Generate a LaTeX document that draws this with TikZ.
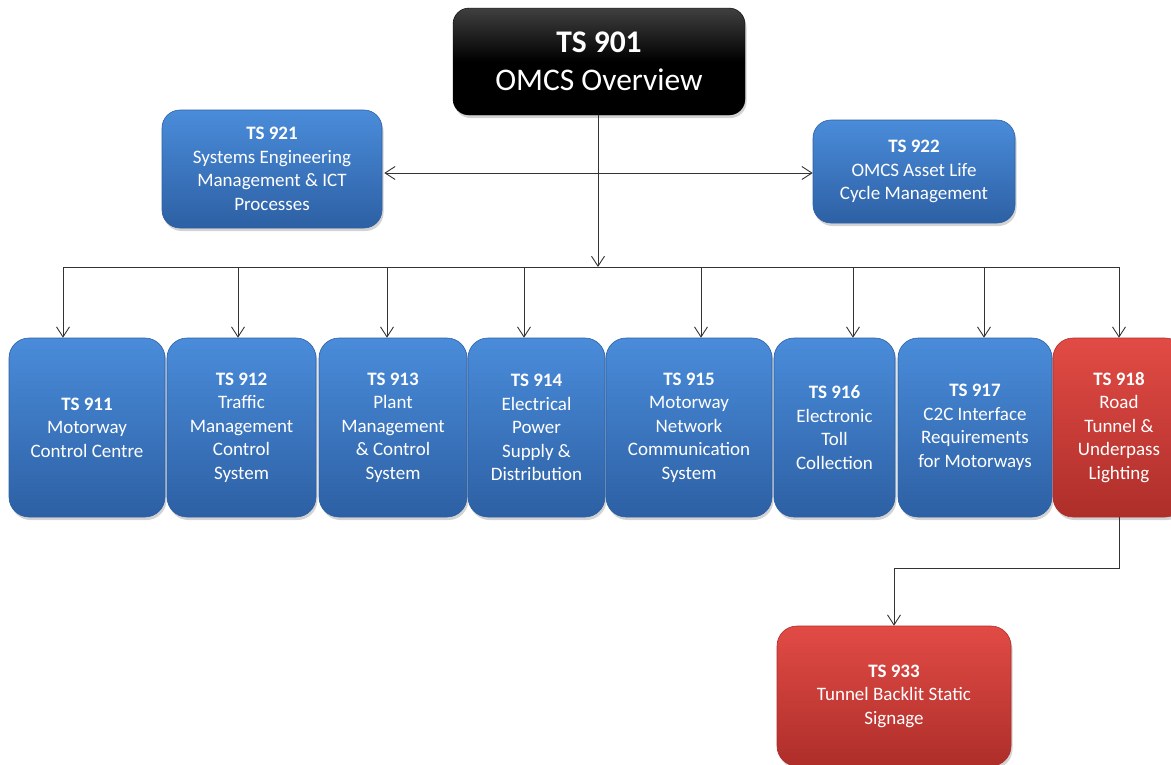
\documentclass[tikz,border=0pt]{standalone}
\usepackage{fontspec}
\setmainfont{Carlito}
\usetikzlibrary{arrows.meta,shadows}

\definecolor{bluetop}{HTML}{4A8CDA}
\definecolor{bluebot}{HTML}{2D60A4}
\definecolor{redtop}{HTML}{E24B45}
\definecolor{redbot}{HTML}{AE2E2A}
\definecolor{linegray}{HTML}{333333}

\tikzset{
	tsbox/.style={rounded corners=20pt, text=white, align=center, inner sep=0pt,
		font=\fontsize{19}{23.5}\selectfont,
		drop shadow={opacity=0.35, shadow xshift=1.5pt, shadow yshift=-3pt}},
	bluebox/.style={tsbox, top color=bluetop, bottom color=bluebot, draw=bluebot, line width=0.6pt},
	redbox/.style={tsbox, top color=redtop, bottom color=redbot, draw=redbot, line width=0.6pt},
	rowbox/.style={minimum height=179pt},
	link/.style={draw=linegray, line width=0.9pt},
	arr/.style={link, -{Straight Barb[length=10pt,width=13pt]}},
	arrs/.style={link, {Straight Barb[length=10pt,width=13pt]}-{Straight Barb[length=10pt,width=13pt]}}
}

\begin{document}
\begin{tikzpicture}[x=1pt,y=-1pt]
			\useasboundingbox (0,0) rectangle (1171,764);
			% top box
			\node[tsbox, rounded corners=16pt, minimum width=292pt, minimum height=107pt,
				top color=black!75, bottom color=black, middle color=black, draw=black,
				font=\fontsize{31.5}{38}\selectfont] (ts901) at (599,61.5) {\textbf{TS 901}\\OMCS Overview};
			% side boxes
			\node[bluebox, rounded corners=18pt, minimum width=220pt, minimum height=118pt] (ts921) at (272,169) {\textbf{TS 921}\\Systems Engineering\\Management \& ICT\\Processes};
			\node[bluebox, rounded corners=18pt, minimum width=202pt, minimum height=103pt] (ts922) at (914,171.5) {\textbf{TS 922}\\OMCS Asset Life\\Cycle Management};
			% row of specifications
			\node[bluebox, rowbox, minimum width=156pt] (ts911) at (87,427.5) {\textbf{TS 911}\\Motorway\\Control Centre};
			\node[bluebox, rowbox, minimum width=149pt] (ts912) at (241.5,427.5) {\textbf{TS 912}\\Traffic\\Management\\Control\\System};
			\node[bluebox, rowbox, minimum width=148pt] (ts913) at (393,427.5) {\textbf{TS 913}\\Plant\\Management\\\& Control\\System};
			\node[bluebox, rowbox, minimum width=137pt] (ts914) at (536.5,427.5) {\textbf{TS 914}\\Electrical\\Power\\Supply \&\\Distribution};
			\node[bluebox, rowbox, minimum width=166pt] (ts915) at (689,427.5) {\textbf{TS 915}\\Motorway\\Network\\Communication\\System};
			\node[bluebox, rowbox, minimum width=121pt] (ts916) at (834.5,427.5) {\textbf{TS 916}\\Electronic\\Toll\\Collection};
			\node[bluebox, rowbox, minimum width=154pt] (ts917) at (975,427.5) {\textbf{TS 917}\\C2C Interface\\Requirements\\for Motorways};
			\node[redbox, rowbox, minimum width=132pt] (ts918) at (1119,427.5) {\textbf{TS 918}\\Road\\Tunnel \&\\Underpass\\Lighting};
			% lower box
			\node[redbox, minimum width=234pt, minimum height=140pt] (ts933) at (894,696) {\textbf{TS 933}\\Tunnel Backlit Static\\Signage};
			% connectors
			\coordinate (bus) at (598,267);
			\coordinate (side) at (598,173);
			\draw[arrs, shorten <=2pt] (ts921.east |- side) -- (ts922.west |- side);
			\draw[arr] (ts901.south -| bus) -- (bus);
			\draw[link] ([xshift=-24pt]ts911.north |- bus) -- (ts918.north |- bus);
			\draw[arr] ([xshift=-24pt]ts911.north |- bus) -- ([xshift=-24pt]ts911.north);
			\draw[arr] ([xshift=-3.5pt]ts912.north |- bus) -- ([xshift=-3.5pt]ts912.north);
			\draw[arr] ([xshift=-6pt]ts913.north |- bus) -- ([xshift=-6pt]ts913.north);
			\draw[arr] ([xshift=-12.5pt]ts914.north |- bus) -- ([xshift=-12.5pt]ts914.north);
			\draw[arr] ([xshift=12pt]ts915.north |- bus) -- ([xshift=12pt]ts915.north);
			\draw[arr] ([xshift=18.5pt]ts916.north |- bus) -- ([xshift=18.5pt]ts916.north);
			\draw[arr] ([xshift=9pt]ts917.north |- bus) -- ([xshift=9pt]ts917.north);
			\draw[arr] (ts918.north |- bus) -- (ts918.north);
			\draw[arr] (ts918.south) -- ++(0,51) -| (ts933.north);
		\end{tikzpicture}
\end{document}
